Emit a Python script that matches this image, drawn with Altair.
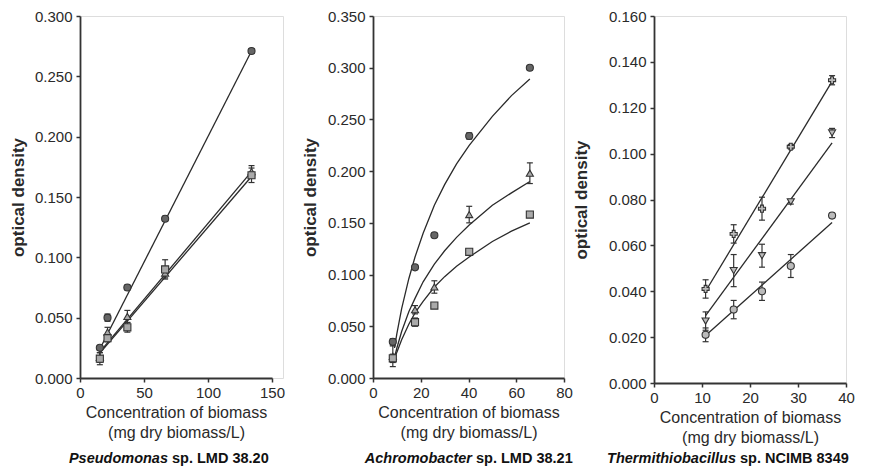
import altair as alt
import pandas as pd

FONT = "Liberation Sans"
INK = "#2a2a2a"

# ---------------- Panel 1: Pseudomonas sp. LMD 38.20 ----------------
p1_x = [15.5, 21.5, 37.0, 66.5, 134.0]
p1_circle = [0.025, 0.050, 0.075, 0.132, 0.271]
p1_circle_err = [0.002, 0.003, 0.002, 0.002, 0.002]
p1_triangle = [0.017, 0.038, 0.051, 0.087, 0.171]
p1_triangle_err = [0.004, 0.004, 0.005, 0.004, 0.005]
p1_square = [0.016, 0.033, 0.042, 0.090, 0.168]
p1_square_err = [0.005, 0.003, 0.004, 0.008, 0.006]
p1_fit_x = [15.0, 134.0]
p1_fit_circle = [0.023, 0.271]
p1_fit_triangle = [0.021, 0.171]
p1_fit_square = [0.020, 0.167]

# ---------------- Panel 2: Achromobacter sp. LMD 38.21 ----------------
p2_x = [8.3, 17.6, 25.7, 40.3, 65.7]
p2_circle = [0.035, 0.107, 0.138, 0.234, 0.300]
p2_circle_err = [0.003, 0.002, 0.002, 0.003, 0.002]
p2_triangle = [0.021, 0.066, 0.088, 0.158, 0.198]
p2_triangle_err = [0.010, 0.004, 0.006, 0.008, 0.010]
p2_square = [0.019, 0.054, 0.070, 0.122, 0.158]
p2_square_err = [0.004, 0.004, 0.002, 0.002, 0.002]
p2_fit_x = [9, 10, 12, 15, 17.6, 21, 25.7, 30, 35, 40.3, 50, 58, 65.7]
p2_fit_circle = [0.029, 0.043, 0.067, 0.096, 0.117, 0.140, 0.167, 0.187,
                 0.207, 0.225, 0.253, 0.273, 0.289]
p2_fit_triangle = [0.020, 0.029, 0.045, 0.064, 0.077, 0.093, 0.110, 0.123,
                   0.136, 0.148, 0.167, 0.179, 0.190]
p2_fit_square = [0.018, 0.025, 0.037, 0.052, 0.063, 0.074, 0.088, 0.098,
                 0.108, 0.117, 0.132, 0.142, 0.150]

# ---------------- Panel 3: Thermithiobacillus sp. NCIMB 8349 ----------------
p3_x = [10.75, 16.6, 22.5, 28.5, 37.1]
p3_cross = [0.041, 0.065, 0.076, 0.103, 0.132]
p3_cross_err = [0.004, 0.004, 0.005, 0.001, 0.002]
p3_tri = [0.027, 0.049, 0.0555, 0.079, 0.109]
p3_tri_err = [0.004, 0.007, 0.005, 0.001, 0.002]
p3_circle = [0.021, 0.032, 0.040, 0.051, 0.073]
p3_circle_err = [0.003, 0.004, 0.004, 0.005, 0.001]
p3_fit_x = [10.75, 37.1]
p3_fit_cross = [0.040, 0.1315]
p3_fit_tri = [0.0294, 0.1047]
p3_fit_circle = [0.0207, 0.070]

x_title = ["Concentration of biomass", "(mg dry biomass/L)"]


def points_df(x, series):
    rows = []
    for name, ys, es in series:
        for xi, yi, ei in zip(x, ys, es):
            rows.append(dict(x=xi, y=yi, lo=yi - ei, hi=yi + ei, s=name))
    return pd.DataFrame(rows)


def fits_df(x, series):
    rows = []
    for name, ys in series:
        for xi, yi in zip(x, ys):
            rows.append(dict(x=xi, y=yi, s=name))
    return pd.DataFrame(rows)


def panel(pts, fits, xmax, xstep, ymax, ystep, width, xrange, height, tpad,
          names, shapes, fills, genus, rest, split, cap_y):
    xs = alt.Scale(domain=[0, xmax], range=[0, xrange], nice=False, zero=True)
    ys = alt.Scale(domain=[0, ymax], nice=False, zero=True)
    n_y = int(round(ymax / ystep))
    xaxis = alt.Axis(
        values=list(range(0, xmax + 1, xstep)), format="d", grid=False,
        title=x_title, titleFont=FONT, titleFontSize=16, titleFontWeight="normal",
        titleColor=INK, titlePadding=4, titleLineHeight=20,
        labelFont=FONT, labelFontSize=15, labelColor=INK, labelPadding=3,
        labelFlush=False, labelOverlap=False,
        domainColor="#333", domainWidth=1.8, tickColor="#333", tickWidth=1.5,
        tickSize=4)
    yaxis = alt.Axis(
        values=[round(i * ystep, 3) for i in range(n_y + 1)], format=".3f",
        grid=False, title="optical density", titleFont=FONT, titleFontSize=17,
        titleFontWeight="bold", titleColor=INK, titlePadding=tpad,
        labelFont=FONT, labelFontSize=15, labelColor=INK, labelPadding=4,
        labelOverlap=False, labelFlush=False,
        domainColor="#333", domainWidth=1.8, tickColor="#333", tickWidth=1.5,
        tickSize=4)
    X = alt.X("x:Q", scale=xs, axis=xaxis)
    Y = alt.Y("y:Q", scale=ys, axis=yaxis)
    Ylo = alt.Y("lo:Q", scale=ys, axis=yaxis)
    Yhi = alt.Y("hi:Q", scale=ys, axis=yaxis)

    lines = alt.Chart(fits).mark_line(color="#2a2a2a", strokeWidth=1.3).encode(
        x=X, y=Y, detail="s:N")
    rules = alt.Chart(pts).mark_rule(color="#333", strokeWidth=1.2).encode(
        x=X, y=Ylo, y2="hi:Q")
    tick_lo = alt.Chart(pts).mark_tick(orient="horizontal", size=6, thickness=1.2,
                                       color="#333", opacity=1).encode(x=X, y=Ylo)
    tick_hi = alt.Chart(pts).mark_tick(orient="horizontal", size=6, thickness=1.2,
                                       color="#333", opacity=1).encode(x=X, y=Yhi)
    dots = alt.Chart(pts).mark_point(filled=True, stroke="#333", strokeWidth=1.1,
                                     size=50, opacity=1).encode(
        x=X, y=Y,
        shape=alt.Shape("s:N", scale=alt.Scale(domain=names, range=shapes), legend=None),
        fill=alt.Fill("s:N", scale=alt.Scale(domain=names, range=fills), legend=None))
    cap1 = alt.Chart(pd.DataFrame({"t": [genus]})).mark_text(
        font=FONT, fontSize=14.5, fontWeight="bold", fontStyle="italic",
        align="right", baseline="middle", color="#111").encode(
        text="t:N", x=alt.value(split), y=alt.value(cap_y))
    cap2 = alt.Chart(pd.DataFrame({"t": [rest]})).mark_text(
        font=FONT, fontSize=14.5, fontWeight="bold",
        align="left", baseline="middle", color="#111").encode(
        text="t:N", x=alt.value(split + 4), y=alt.value(cap_y))
    return alt.layer(lines, rules, tick_lo, tick_hi, dots, cap1, cap2).properties(
        width=width, height=height)


pts1 = points_df(p1_x, [("circle", p1_circle, p1_circle_err),
                        ("triangle", p1_triangle, p1_triangle_err),
                        ("square", p1_square, p1_square_err)])
fit1 = fits_df(p1_fit_x, [("circle", p1_fit_circle), ("triangle", p1_fit_triangle),
                          ("square", p1_fit_square)])
pts2 = points_df(p2_x, [("circle", p2_circle, p2_circle_err),
                        ("triangle", p2_triangle, p2_triangle_err),
                        ("square", p2_square, p2_square_err)])
fit2 = fits_df(p2_fit_x, [("circle", p2_fit_circle), ("triangle", p2_fit_triangle),
                          ("square", p2_fit_square)])
pts3 = points_df(p3_x, [("cross", p3_cross, p3_cross_err),
                        ("tri", p3_tri, p3_tri_err),
                        ("circ", p3_circle, p3_circle_err)])
fit3 = fits_df(p3_fit_x, [("cross", p3_fit_cross), ("tri", p3_fit_tri),
                          ("circ", p3_fit_circle)])

c1 = panel(pts1, fit1, 150, 50, 0.3, 0.05, 203, 192, 362, 7,
           ["circle", "triangle", "square"], ["circle", "triangle-up", "square"],
           ["#666", "#aaa", "#aaa"], "Pseudomonas", "sp. LMD 38.20", 88, 443)
c2 = panel(pts2, fit2, 80, 20, 0.35, 0.05, 191, 191, 362, 8,
           ["circle", "triangle", "square"], ["circle", "triangle-up", "square"],
           ["#666", "#aaa", "#aaa"], "Achromobacter", "sp. LMD 38.21", 99, 443)
c3 = panel(pts3, fit3, 40, 10, 0.16, 0.02, 192, 192, 367, 18,
           ["cross", "tri", "circ"], ["cross", "triangle-down", "circle"],
           ["#bbb", "#bbb", "#bbb"], "Thermithiobacillus", "sp. NCIMB 8349", 82, 443)

chart = alt.hconcat(c1, c2, c3, spacing=90, bounds="flush").resolve_scale(
    shape="independent", fill="independent"
).properties(
    padding={"left": 0, "top": 0, "right": 0, "bottom": 0}
).configure_view(stroke=None).configure(background="white")

chart.save("out.html", embed_options={"renderer": "svg", "actions": False})
